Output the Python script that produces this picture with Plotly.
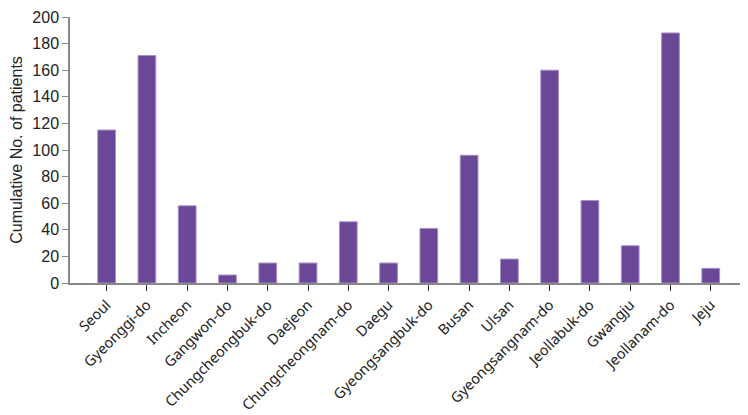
import plotly.graph_objects as go

regions = ["Seoul", "Gyeonggi-do", "Incheon", "Gangwon-do", "Chungcheongbuk-do",
           "Daejeon", "Chungcheongnam-do", "Daegu", "Gyeongsangbuk-do", "Busan",
           "Ulsan", "Gyeongsangnam-do", "Jeollabuk-do", "Gwangju", "Jeollanam-do", "Jeju"]
patients = [115, 171, 58, 6, 15, 15, 46, 15, 41, 96, 18, 160, 62, 28, 188, 11]

fig = go.Figure()
fig.add_trace(go.Bar(
    x=list(range(len(regions))),
    y=patients,
    width=0.44,
    marker=dict(color="#6b4798", line=dict(color="#a58fc4", width=1)),
))

# page body has an 8px margin, so the figure is 8px smaller than the window
fig.update_layout(
    width=740, height=407,
    margin=dict(l=62, r=1, t=9, b=132),
    plot_bgcolor="white", paper_bgcolor="white",
    showlegend=False,
)
fig.update_xaxes(
    range=[-0.91, 15.9], automargin=False,
    tickmode="array", tickvals=list(range(len(regions))), ticktext=regions,
    tickangle=-45,
    tickfont=dict(family="Noto Sans", size=14.5, color="#222"),
    showline=True, linecolor="#888", linewidth=1.5,
    ticks="outside", ticklen=6, tickcolor="#333",
    showgrid=False, zeroline=False,
)
fig.update_yaxes(
    range=[0, 200], dtick=20, automargin=False, ticklabeloverflow="allow",
    tickfont=dict(family="Liberation Sans", size=16, color="#222"),
    title=dict(text="Cumulative No. of patients", font=dict(family="Liberation Sans", size=16, color="#222"), standoff=11),
    showline=True, linecolor="#888", linewidth=1.5,
    ticks="outside", ticklen=6, tickcolor="#888",
    showgrid=False, zeroline=False,
)

fig.write_html("out.html")
